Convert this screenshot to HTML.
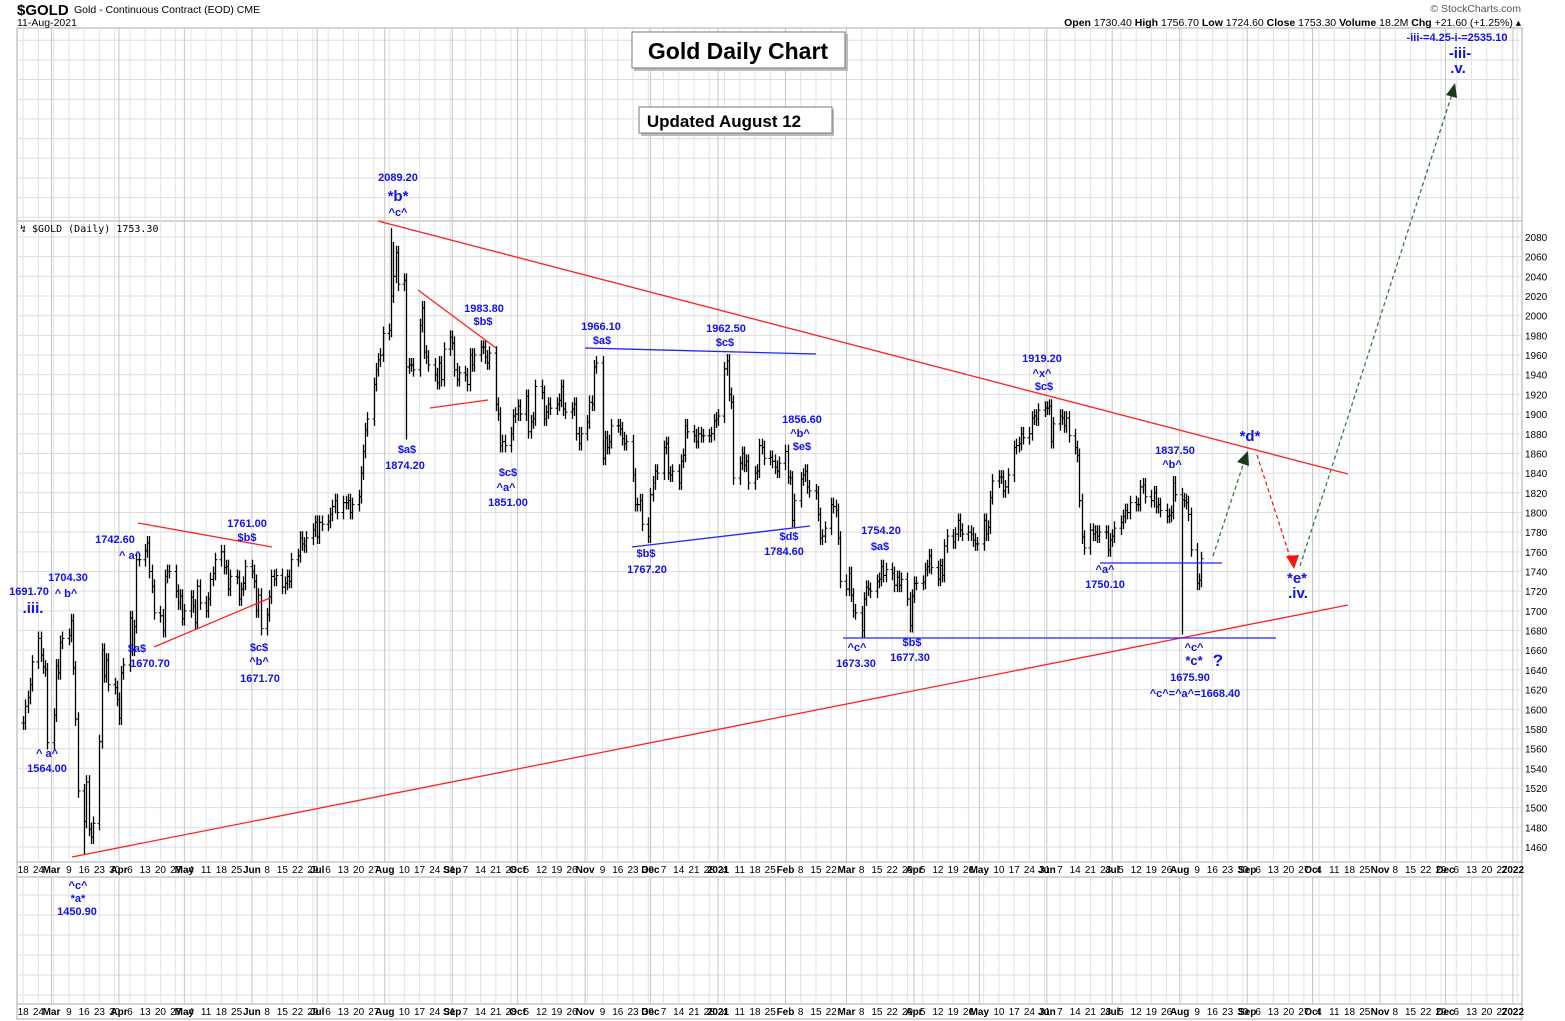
<!DOCTYPE html>
<html><head><meta charset="utf-8"><style>
html,body{margin:0;padding:0;background:#fff;}
svg{display:block;font-family:"Liberation Sans",Arial,sans-serif;}
.lb{fill:#1010ee;font-weight:bold;font-size:11px;text-anchor:middle;}
.lg{fill:#1010ee;font-weight:bold;font-size:15px;text-anchor:middle;}
.ax{font-size:10px;fill:#000;}
</style></head><body>
<svg id="chart" width="1565" height="1021" viewBox="0 0 1565 1021" xmlns="http://www.w3.org/2000/svg">
<g id="grid"></g>
<g id="xaxis"></g>
<g id="yaxis"></g>
<g id="bars"></g>
<g id="anno">
<line x1="378" y1="221" x2="1348" y2="474" stroke="#f22" stroke-width="1.3"/>
<line x1="72" y1="857" x2="1348" y2="605" stroke="#f22" stroke-width="1.3"/>
<line x1="138" y1="523" x2="272" y2="547" stroke="#f22" stroke-width="1.3"/>
<line x1="154" y1="647" x2="270" y2="598" stroke="#f22" stroke-width="1.3"/>
<line x1="418" y1="290" x2="496" y2="348" stroke="#f22" stroke-width="1.3"/>
<line x1="430" y1="408" x2="488" y2="400" stroke="#f22" stroke-width="1.3"/>
<line x1="585" y1="348" x2="816" y2="354" stroke="#22f" stroke-width="1.3"/>
<line x1="632" y1="547" x2="810" y2="526" stroke="#22f" stroke-width="1.3"/>
<line x1="843" y1="638" x2="1276" y2="638" stroke="#22f" stroke-width="1.3"/>
<line x1="1100" y1="563" x2="1222" y2="563" stroke="#22f" stroke-width="1.3"/>
<line x1="1213" y1="556" x2="1244" y2="462" stroke="#3a7a3a" stroke-width="1.3" stroke-dasharray="4,3"/>
<polygon points="1248,451 1237,462 1249,466" fill="#1a3a1a"/>
<line x1="1257" y1="455" x2="1290" y2="557" stroke="#e22" stroke-width="1.3" stroke-dasharray="4,3"/>
<polygon points="1294,569 1286,556 1299,555" fill="#f11"/>
<line x1="1300" y1="566" x2="1452" y2="94" stroke="#3a7a3a" stroke-width="1.3" stroke-dasharray="4,3"/>
<polygon points="1455,83 1446,95 1457,98" fill="#1a3a1a"/>
</g>
<g id="labels">
<text class="lb" x="398" y="181">2089.20</text><text class="lg" x="398" y="201">*b*</text><text class="lb" x="398" y="216">^c^</text>
<text class="lb" x="484" y="312">1983.80</text><text class="lb" x="483" y="325">$b$</text>
<text class="lb" x="407" y="453">$a$</text><text class="lb" x="405" y="469">1874.20</text>
<text class="lb" x="508" y="476">$c$</text><text class="lb" x="506" y="491">^a^</text><text class="lb" x="508" y="506">1851.00</text>
<text class="lb" x="601" y="330">1966.10</text><text class="lb" x="602" y="344">$a$</text>
<text class="lb" x="726" y="332">1962.50</text><text class="lb" x="725" y="346">$c$</text>
<text class="lb" x="802" y="423">1856.60</text><text class="lb" x="800" y="437">^b^</text><text class="lb" x="802" y="450">$e$</text>
<text class="lb" x="789" y="540">$d$</text><text class="lb" x="784" y="555">1784.60</text>
<text class="lb" x="646" y="557">$b$</text><text class="lb" x="647" y="573">1767.20</text>
<text class="lb" x="881" y="534">1754.20</text><text class="lb" x="880" y="550">$a$</text>
<text class="lb" x="857" y="651">^c^</text><text class="lb" x="856" y="667">1673.30</text>
<text class="lb" x="912" y="646">$b$</text><text class="lb" x="910" y="661">1677.30</text>
<text class="lb" x="1042" y="362">1919.20</text><text class="lb" x="1042" y="377">^x^</text><text class="lb" x="1044" y="390">$c$</text>
<text class="lb" x="1175" y="454">1837.50</text><text class="lb" x="1172" y="468">^b^</text>
<text class="lb" x="1105" y="573">^a^</text><text class="lb" x="1105" y="588">1750.10</text>
<text class="lb" x="1194" y="651">^c^</text><text class="lb" x="1194" y="665" style="font-size:13px">*c*</text>
<text class="lg" x="1218" y="666" style="font-size:17px">?</text>
<text class="lb" x="1190" y="681">1675.90</text><text class="lb" x="1195" y="697">^c^=^a^=1668.40</text>
<text class="lg" x="1250" y="441">*d*</text><text class="lg" x="1297" y="583">*e*</text><text class="lg" x="1298" y="598">.iv.</text>
<text class="lb" x="1457" y="41">-iii-=4.25-i-=2535.10</text><text class="lg" x="1460" y="58">-iii-</text><text class="lg" x="1458" y="73">.v.</text>
<text class="lb" x="247" y="527">1761.00</text><text class="lb" x="247" y="541">$b$</text>
<text class="lb" x="115" y="543">1742.60</text><text class="lb" x="130" y="559">^ a^</text>
<text class="lb" x="68" y="581">1704.30</text><text class="lb" x="66" y="597">^ b^</text>
<text class="lb" x="29" y="595">1691.70</text><text class="lg" x="33" y="613">.iii.</text>
<text class="lb" x="137" y="652">$a$</text><text class="lb" x="150" y="667">1670.70</text>
<text class="lb" x="259" y="651">$c$</text><text class="lb" x="259" y="665">^b^</text><text class="lb" x="260" y="682">1671.70</text>
<text class="lb" x="47" y="757">^ a^</text><text class="lb" x="47" y="772">1564.00</text>
<text class="lb" x="78" y="889">^c^</text><text class="lb" x="78" y="902">*a*</text><text class="lb" x="77" y="915">1450.90</text>
</g>
<g>
<text x="17" y="15" style="font-size:15px;font-weight:bold">$GOLD</text>
<text x="74" y="13" style="font-size:10.5px">Gold - Continuous Contract (EOD) CME</text>
<text x="17" y="26" style="font-size:10.5px">11-Aug-2021</text>
<text x="1521" y="12" text-anchor="end" style="font-size:10.5px;fill:#555">© StockCharts.com</text>
<text x="1521" y="26" text-anchor="end" style="font-size:10.5px"><tspan font-weight="bold">Open</tspan> 1730.40 <tspan font-weight="bold">High</tspan> 1756.70 <tspan font-weight="bold">Low</tspan> 1724.60 <tspan font-weight="bold">Close</tspan> 1753.30 <tspan font-weight="bold">Volume</tspan> 18.2M <tspan font-weight="bold">Chg</tspan> +21.60 (+1.25%) ▴</text>
<text x="20" y="232" style="font-size:10px;font-family:'DejaVu Sans Mono','Liberation Mono',monospace">↯ $GOLD (Daily) 1753.30</text>
</g>
<g>
<rect x="634" y="34" width="214" height="37" fill="#bbb"/>
<rect x="632" y="32" width="213" height="36" fill="#fff" stroke="#777"/>
<text x="738" y="59" text-anchor="middle" style="font-size:23px;font-weight:bold">Gold Daily Chart</text>
</g>
<g>
<rect x="641" y="109" width="193" height="27" fill="#bbb"/>
<rect x="639" y="107" width="193" height="26" fill="#fff" stroke="#777"/>
<text x="724" y="127" text-anchor="middle" style="font-size:17px;font-weight:bold">Updated August 12</text>
</g>
</svg>
<script>
const startDate = "2020-02-17";
const closes = [
1586,1603,1612,1625,1648, 1672,1655,1643,1640,1566, 1594,1644,1637,1668,1672, 1675,1690,1642,1590,1517,
1486,1526,1478,1470,1484, 1567,1660,1634,1650,1625, 1622,1610,1591,1637,1645, 1693,1661,1684,1752,1752,
1761,1769,1740,1725,1698, 1695,1680,1735,1740,1740, 1720,1708,1715,1692,1700, 1714,1705,1688,1725,1708,
1700,1712,1732,1738,1752, 1760,1744,1745,1722,1735, 1734,1712,1722,1728,1745, 1740,1730,1700,1716,1682,
1696,1714,1735,1732,1736, 1724,1728,1735,1730,1752, 1756,1774,1768,1766,1774, 1782,1790,1775,1790,1788,
1791,1798,1806,1812,1800, 1810,1810,1812,1800,1808, 1816,1840,1862,1884,1895, 1930,1945,1955,1960,1982,
1985,2020,2040,2064,2032, 2036,1948,1950,1950,1945, 1990,2008,1963,1958,1950, 1940,1932,1952,1935,1966,
1978,1972,1945,1935,1942, 1940,1930,1960,1950,1960, 1968,1968,1958,1952,1962, 1910,1900,1868,1872,1868,
1880,1898,1900,1908,1900, 1918,1882,1892,1895,1928, 1922,1895,1902,1910,1906, 1910,1914,1928,1905,1902,
1905,1910,1880,1870,1880, 1892,1912,1910,1948,1952, 1855,1876,1866,1872,1888, 1888,1885,1875,1870,1872,
1838,1808,1808,1812,1788, 1776,1818,1830,1842,1840, 1866,1870,1840,1838,1842, 1830,1852,1858,1888,1882,
1878,1872,1880,1878,1878, 1878,1880,1893,1895,1898,
1946,1954,1920,1912,1835, 1850,1860,1848,1852,1830, 1840,1842,1868,1866,1855, 1856,1852,1846,1842,1850,
1862,1836,1835,1792,1812, 1834,1838,1842,1826,1822, 1820,1798,1774,1776,1784, 1808,1806,1802,1774,1730,
1722,1738,1716,1700,1698, 1680,1712,1724,1722,1720, 1730,1732,1745,1736,1742, 1738,1726,1734,1726,1732,
1712,1685,1715,1728,1728, 1729,1742,1745,1756,1744, 1732,1746,1736,1766,1776, 1770,1778,1792,1782,1778,
1780,1778,1772,1768,1768, 1792,1778,1785,1815,1832, 1836,1836,1822,1826,1838, 1866,1868,1870,1880,1876,
1880,1896,1898,1895,1904, 1906,1906,1908,1872,1890, 1898,1896,1888,1896,1878, 1866,1858,1812,1775,1764,
1782,1778,1780,1776,1780, 1780,1762,1772,1776,1784, 1790,1796,1802,1800,1810, 1808,1808,1826,1828,1816,
1812,1820,1806,1808,1802, 1796,1797,1800,1830,1818, 1813,1812,1810,1798,1762, 1728,1731,1753];
const spikeDays = [20, 126, 380];
const spikeLows = [1452, 1874, 1676];
const spikeHighDays = [121, 122];
const spikeHighs = [2089, 2075];
const priceTicks = [1460,1480,1500,1520,1540,1560,1580,1600,1620,1640,1660,1680,1700,1720,1740,1760,1780,1800,1820,1840,1860,1880,1900,1920,1940,1960,1980,2000,2020,2040,2060,2080];
const monthNames = ["Jan","Feb","Mar","Apr","May","Jun","Jul","Aug","Sep","Oct","Nov","Dec"];

const NS="http://www.w3.org/2000/svg";
const L=17,R=1522,T=221,B=862;
const DAY=86400000, ORIGIN=Date.UTC(2020,3,1);
function xOf(t){return 119+(t-ORIGIN)/DAY*2.178;}
function yOf(v){return 847-(v-1460)*0.9839;}
function mk(tag,attrs,parent){const e=document.createElementNS(NS,tag);for(const k in attrs)e.setAttribute(k,attrs[k]);parent.appendChild(e);return e;}

const grid=document.getElementById('grid');
mk('rect',{x:L,y:28,width:R-L,height:1004-28,fill:'#fff',stroke:'#aaa'},grid);
for(let v=1440;v<=2300;v+=20){const y=yOf(v);
 if(y>T&&y<B) mk('line',{x1:L,x2:R,y1:y,y2:y,stroke:'#ddd'},grid);
 if(y>28&&y<T) mk('line',{x1:L,x2:R,y1:y,y2:y,stroke:'#ddd'},grid);}
for(let y=895;y<1004;y+=20) mk('line',{x1:L,x2:R,y1:y,y2:y,stroke:'#ddd'},grid);
mk('line',{x1:L,x2:R,y1:T,y2:T,stroke:'#aaa'},grid);
mk('rect',{x:L,y:B,width:R-L,height:15,fill:'#fff',stroke:'#aaa'},grid);
mk('rect',{x:L,y:1004,width:R-L,height:15,fill:'#fff',stroke:'#aaa'},grid);

const xg=document.getElementById('xaxis');
const endT=Date.UTC(2022,0,9);
for(let t=Date.UTC(2020,1,17);t<=endT;t+=DAY){
 const d=new Date(t);const x=xOf(t);if(x<L||x>R)continue;
 if(d.getUTCDate()===1){
  for(const yy of [[28,B],[877,1004]]) mk('line',{x1:x,x2:x,y1:yy[0],y2:yy[1],stroke:'#c4c4c4'},grid);
  const lab=d.getUTCMonth()===0?String(d.getUTCFullYear()):monthNames[d.getUTCMonth()];
  for(const ty of [873,1015]){const e=mk('text',{x:x,y:ty,'text-anchor':'middle',class:'ax','font-weight':'bold'},xg);e.textContent=lab;
   
   }
 } else if(d.getUTCDay()===1){
  for(const yy of [[28,B],[877,1004]]) mk('line',{x1:x,x2:x,y1:yy[0],y2:yy[1],stroke:'#e2e2e2'},grid);
  if(d.getUTCDate()>3){const lbl=(t===Date.UTC(2020,1,17))?"18":String(d.getUTCDate());
   for(const ty of [873,1015]){const e=mk('text',{x:x,y:ty,'text-anchor':'middle',class:'ax'},xg);e.textContent=lbl;
   
   }}
 }
}
const yg=document.getElementById('yaxis');
priceTicks.forEach(v=>{const e=mk('text',{x:1525,y:yOf(v)+4,class:'ax'},yg);e.textContent=String(v);
 
 });

const bg=document.getElementById('bars');
let t=Date.parse(startDate+"T00:00:00Z");let prev=closes[0];
closes.forEach((c,i)=>{
 while(new Date(t).getUTCDay()===0||new Date(t).getUTCDay()===6)t+=DAY;
 const x=Math.round(xOf(t))+0.5;const o=i===0?c:prev;
 let hi=Math.max(o,c)+7,lo=Math.min(o,c)-7;
 const si=spikeDays.indexOf(i);if(si>=0)lo=spikeLows[si];
 const hj=spikeHighDays.indexOf(i);if(hj>=0)hi=spikeHighs[hj];
 const g=mk('g',{},bg);
 
 
 mk('line',{x1:x,x2:x,y1:yOf(hi),y2:yOf(lo),stroke:'#000','stroke-width':1.3},g);
 mk('line',{x1:x-2,x2:x,y1:yOf(o),y2:yOf(o),stroke:'#000'},g);
 mk('line',{x1:x,x2:x+2,y1:yOf(c),y2:yOf(c),stroke:'#000'},g);
 prev=c;t+=DAY;});
document.getElementById('chart').appendChild(document.getElementById('anno'));
document.getElementById('chart').appendChild(document.getElementById('labels'));
</script>
</body></html>
